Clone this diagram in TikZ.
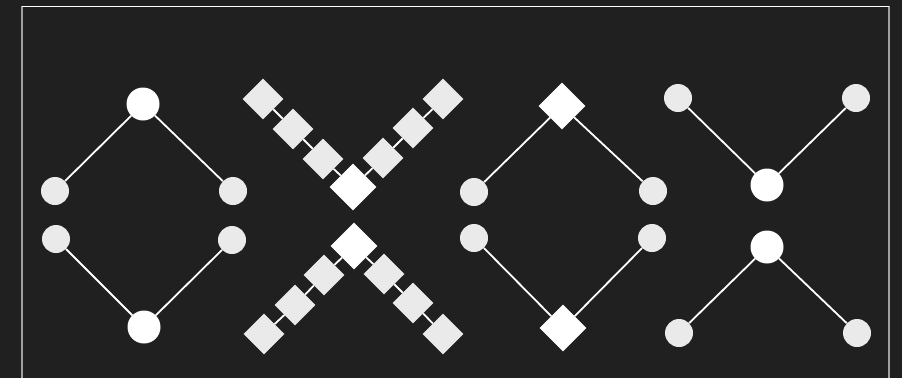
\documentclass[tikz,border=0pt]{standalone}
\usepackage{tikz}
\usetikzlibrary{shapes.geometric}
\definecolor{bgdark}{RGB}{31,32,31}
\definecolor{dotgray}{RGB}{234,234,234}
\definecolor{framegray}{RGB}{160,160,160}
\tikzset{
  bigdot/.style={circle, fill=white, minimum size=33pt, inner sep=0pt},
  smalldot/.style={circle, fill=dotgray, minimum size=28pt, inner sep=0pt},
  bigdiam/.style={diamond, fill=white, minimum width=47pt, minimum height=47pt, inner sep=0pt},
  smalldiam/.style={diamond, fill=dotgray, minimum width=41pt, minimum height=41pt, inner sep=0pt},
  link/.style={white, line width=1.8pt}
}
\begin{document}
\begin{tikzpicture}[x=1pt,y=-1pt]
  \fill[bgdark] (0,0) rectangle (902,378);
  \useasboundingbox (0,0) rectangle (902,378);
  % frame
  \draw[framegray, line width=2pt] (22,6) -- (22,378);
  \draw[framegray, line width=2pt] (889,6) -- (889,378);
  \draw[white, line width=1pt] (22,6) -- (889,6);

  % circles, diamond
  \node[bigdot] (a1) at (143,104) {};
  \node[smalldot] (a2) at (55,191) {};
  \node[smalldot] (a3) at (233,191) {};
  \node[smalldot] (a4) at (56,239) {};
  \node[smalldot] (a5) at (232,240) {};
  \node[bigdot] (a6) at (144,327) {};
  \draw[link] (a1)--(a2);
  \draw[link] (a1)--(a3);
  \draw[link] (a6)--(a4);
  \draw[link] (a6)--(a5);

  % upper cross of diamonds
  \node[bigdiam] (b0) at (353,187) {};
  \node[smalldiam] (b1) at (323,159) {};
  \node[smalldiam] (b2) at (293,129) {};
  \node[smalldiam] (b3) at (263,99) {};
  \node[smalldiam] (b4) at (383,158) {};
  \node[smalldiam] (b5) at (413,128) {};
  \node[smalldiam] (b6) at (443,99) {};
  \draw[link] (b0)--(b1);
  \draw[link] (b1)--(b2);
  \draw[link] (b2)--(b3);
  \draw[link] (b0)--(b4);
  \draw[link] (b4)--(b5);
  \draw[link] (b5)--(b6);

  % lower cross of diamonds
  \node[bigdiam] (c0) at (354,246) {};
  \node[smalldiam] (c1) at (324,275) {};
  \node[smalldiam] (c2) at (295,305) {};
  \node[smalldiam] (c3) at (264,334) {};
  \node[smalldiam] (c4) at (384,274) {};
  \node[smalldiam] (c5) at (413,303) {};
  \node[smalldiam] (c6) at (443,334) {};
  \draw[link] (c0)--(c1);
  \draw[link] (c1)--(c2);
  \draw[link] (c2)--(c3);
  \draw[link] (c0)--(c4);
  \draw[link] (c4)--(c5);
  \draw[link] (c5)--(c6);

  % diamonds with circles
  \node[bigdiam] (d1) at (562,106) {};
  \node[smalldot] (d2) at (474,192) {};
  \node[smalldot] (d3) at (653,191) {};
  \node[smalldot] (d4) at (474,238) {};
  \node[smalldot] (d5) at (652,238) {};
  \node[bigdiam] (d6) at (563,328) {};
  \draw[link] (d1)--(d2);
  \draw[link] (d1)--(d3);
  \draw[link] (d6)--(d4);
  \draw[link] (d6)--(d5);

  % cross of circles
  \node[bigdot] (e1) at (767,185) {};
  \node[smalldot] (e2) at (678,98) {};
  \node[smalldot] (e3) at (856,98) {};
  \node[bigdot] (e4) at (767,247) {};
  \node[smalldot] (e5) at (679,333) {};
  \node[smalldot] (e6) at (857,333) {};
  \draw[link] (e1)--(e2);
  \draw[link] (e1)--(e3);
  \draw[link] (e4)--(e5);
  \draw[link] (e4)--(e6);
\end{tikzpicture}
\end{document}
